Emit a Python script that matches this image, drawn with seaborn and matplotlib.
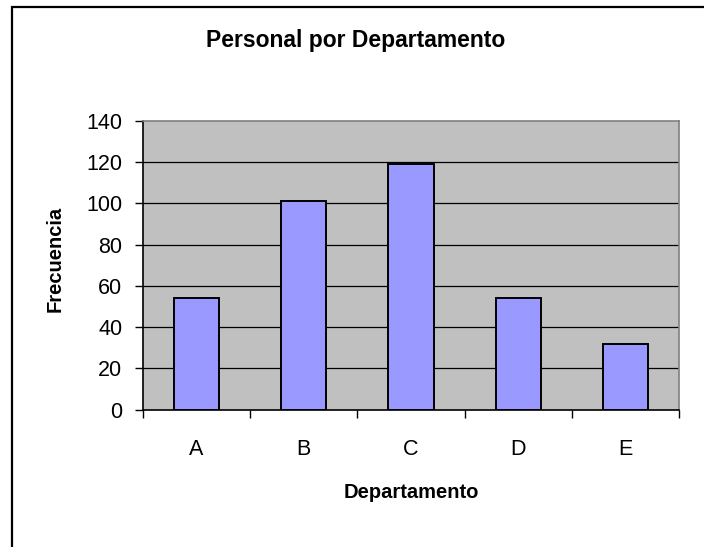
import pandas as pd
import numpy as np
import matplotlib
matplotlib.use("Agg")
import matplotlib.pyplot as plt
import matplotlib.patches as patches
import seaborn as sns

departamentos = ["A", "B", "C", "D", "E"]
frecuencia = [54, 101, 119, 54, 32]
y_ticks = [0, 20, 40, 60, 80, 100, 120, 140]

df = pd.DataFrame({"Departamento": departamentos, "Frecuencia": frecuencia})

sns.set_style("white")
plt.rcParams["font.family"] = ["Liberation Sans", "DejaVu Sans"]
plt.rcParams["text.color"] = "black"
plt.rcParams["axes.labelcolor"] = "black"
plt.rcParams["xtick.color"] = "black"
plt.rcParams["ytick.color"] = "black"

fig = plt.figure(figsize=(7.04, 5.47), dpi=100)
ax = fig.add_axes([143 / 704, 1 - 409.7 / 547, 536 / 704, 289 / 547])
ax.set_facecolor("#C0C0C0")

sns.barplot(data=df, x="Departamento", y="Frecuencia", color="#9999FF",
            width=0.42, edgecolor="black", linewidth=1.4, saturation=1, ax=ax, zorder=3)

ax.set_xlim(-0.5, 4.5)
ax.set_ylim(0, 140)
ax.set_yticks(y_ticks)
for v in y_ticks[1:-1]:
    ax.axhline(v, color="black", linewidth=0.9, zorder=1)

# spines like an old excel chart
ax.spines["left"].set_color("black")
ax.spines["bottom"].set_color("black")
ax.spines["top"].set_color("#808080")
ax.spines["right"].set_color("#808080")
for s in ax.spines.values():
    s.set_linewidth(1.2)
    s.set_visible(True)

ax.tick_params(axis="y", direction="out", length=6, width=1, color="black",
               labelsize=15.5, pad=9, left=True)
ax.tick_params(axis="x", which="major", length=0, labelsize=15.5, pad=21)
ax.set_xticks(np.arange(-0.5, 5, 1), minor=True)
ax.tick_params(axis="x", which="minor", direction="out", length=6, width=1,
               color="black", bottom=True)

ax.set_xlabel("Departamento", fontsize=14.5, fontweight="bold")
ax.set_ylabel("Frecuencia", fontsize=14.5, fontweight="bold")
ax.xaxis.label.set_va("center")
ax.yaxis.label.set_va("center")
ax.xaxis.set_label_coords(0.5, (409.7 - 493) / 289)
ax.yaxis.set_label_coords((55 - 143) / 536, 0.52)

fig.text(356 / 704, 1 - 40 / 547, "Personal por Departamento", ha="center",
         va="center", fontsize=16.5, fontweight="bold")

# outer chart frame, cut at right and bottom
frame = patches.Rectangle((12 / 704, -0.1), 1.0, 1.1 - 7 / 547, transform=fig.transFigure,
                          fill=False, edgecolor="black", linewidth=1.6)
fig.patches.append(frame)

fig.savefig("out.png", dpi=100)
